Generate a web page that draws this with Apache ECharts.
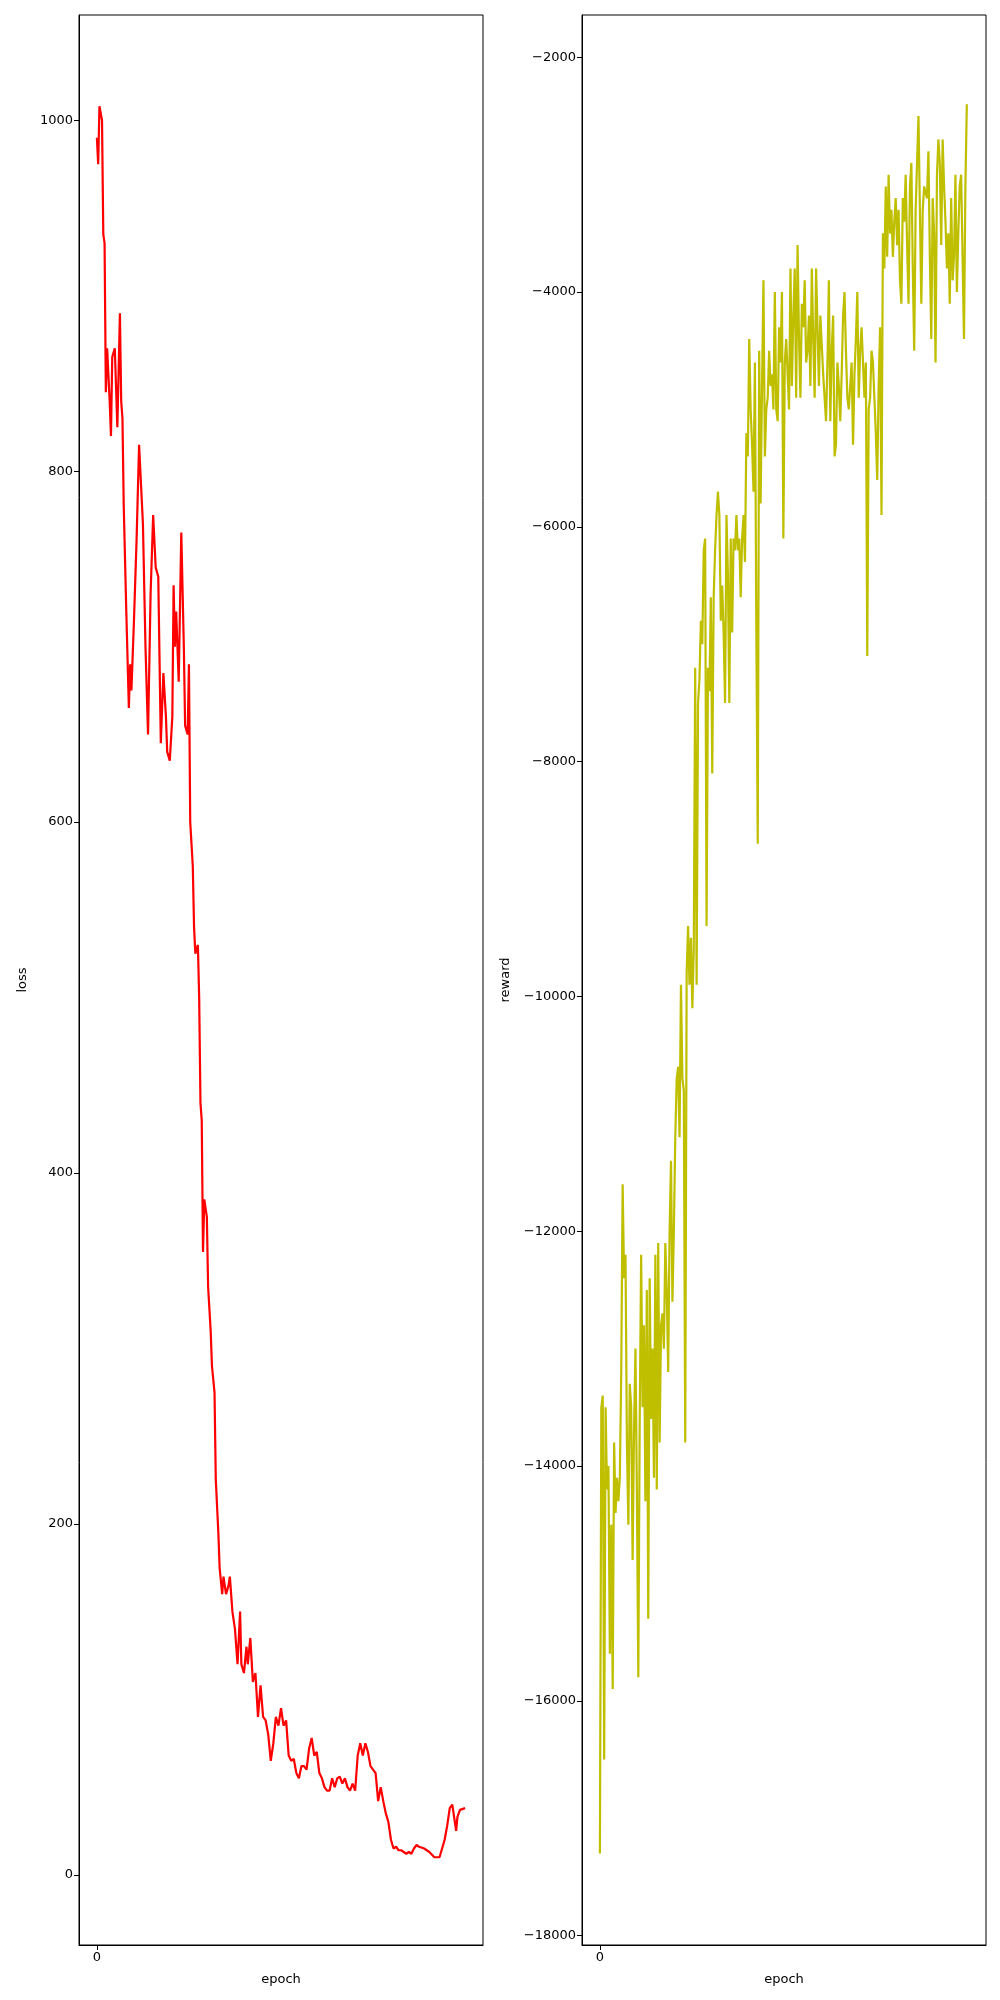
<!DOCTYPE html>
<html>
<head>
<meta charset="UTF-8">
<title>loss / reward</title>
<script src="https://cdn.jsdelivr.net/npm/echarts@6/dist/echarts.min.js"></script>
</head>
<body style="margin:0;background:#fff">
<div id="main" style="width:1000px;height:2000px"></div>
<script>
// loss curve: epoch positions and values
var lossEpoch = [0,1,2,4,5,6,7,8,10,11,12,14,16,18,19,20,21,23,25,26,27,29,31,33,34,36,38,40,42,44,46,48,50,52,54,55,57,59,60,61,62,64,66,68,69,71,72,73,75,76,77,79,80,81,82,83,84,86,87,89,90,92,93,95,96,98,99,101,103,104,106,108,110,112,113,115,117,118,120,122,124,126,128,130,132,134,136,138,140,142,144,146,148,150,152,154,156,158,160,162,164,166,168,170,172,174,176,178,180,182,184,186,188,190,192,194,196,198,200,202,204,206,208,210,212,214,216,218,220,222,224,226,228,230,232,234,236,238,240,242,244,246,248,250,252,256,260,264,268,272,274,276,278,280,281,282,284,288];
var lossValue = [990,975,1008,1000,935,930,845,870,840,820,865,870,825,890,840,830,780,720,665,690,675,715,760,815,800,770,700,650,730,775,745,740,645,685,660,640,635,660,735,700,720,680,765,700,655,650,690,600,575,540,525,530,500,440,430,355,385,375,335,310,290,275,225,195,175,160,170,160,165,170,150,140,120,150,120,115,130,120,135,110,115,90,108,90,88,80,65,75,90,85,95,85,88,68,65,66,58,55,62,62,60,72,78,68,70,58,55,50,48,48,55,50,55,56,52,55,50,48,52,48,68,75,68,75,70,62,60,58,42,50,42,35,30,20,15,16,14,14,13,12,13,12,15,17,16,15,13,10,10,20,28,38,40,30,25,33,37,38];
// reward per epoch
var rewardValue = [-17300,-13500,-13400,-16500,-13500,-14200,-14000,-15600,-14500,-15900,-13800,-14400,-14100,-14300,-14100,-13200,-11600,-12400,-12200,-13800,-14500,-13300,-13500,-14800,-13700,-13000,-14200,-15800,-13600,-12200,-13500,-12800,-14300,-12500,-15300,-12400,-13600,-13000,-14100,-12200,-14200,-12100,-13800,-12800,-12700,-13000,-12100,-12500,-13200,-12000,-11400,-12600,-12000,-11200,-10700,-10600,-11200,-9900,-10700,-10800,-13800,-9800,-9400,-9900,-9500,-10100,-9600,-7200,-9900,-7500,-7300,-6800,-7000,-6200,-6100,-9400,-7200,-7400,-6600,-8100,-6600,-6200,-5900,-5700,-5900,-6800,-6500,-6900,-7500,-5900,-6400,-7500,-6100,-6900,-6100,-6200,-5900,-6200,-6100,-6600,-6100,-5900,-6300,-5200,-5400,-4400,-5000,-5300,-5700,-4600,-6900,-8700,-4500,-5800,-4800,-3900,-5400,-5000,-4900,-4500,-4800,-4700,-5000,-4000,-5000,-5100,-4300,-4600,-4000,-6100,-4600,-4400,-4700,-5000,-3800,-4800,-4200,-3800,-4900,-3600,-4400,-4900,-4100,-4300,-3900,-4600,-4500,-4200,-4800,-3800,-4400,-4900,-3800,-4300,-4800,-4200,-4200,-4700,-4900,-5100,-4600,-3900,-5100,-4500,-4200,-5400,-5300,-4600,-4800,-5100,-4700,-4200,-4000,-4500,-4900,-5000,-4800,-4600,-5300,-4700,-4400,-4000,-4900,-4500,-4300,-4600,-4900,-4600,-7100,-5000,-4900,-4500,-4600,-4900,-5200,-5600,-4800,-4300,-5900,-3500,-3800,-3100,-3700,-3000,-3500,-3300,-3700,-3400,-3200,-3600,-3300,-3900,-4100,-3200,-3400,-3000,-3600,-4100,-3100,-2900,-3800,-4500,-3300,-2900,-2500,-3300,-4100,-3300,-3100,-3100,-3200,-2800,-3700,-4400,-3200,-3500,-4600,-3000,-2700,-2900,-3600,-2700,-3100,-3400,-3800,-3500,-4100,-3200,-3900,-3700,-3000,-4000,-3500,-3100,-3000,-3700,-4400,-3100,-2400];
var lossTicks = [0,200,400,600,800,1000];
var rewardTicks = [-18000,-16000,-14000,-12000,-10000,-8000,-6000,-4000,-2000];
var epochTicks = [0];

var font = 'DejaVu Sans';
function xAx(grid, min, max) {
  return {
    type: 'value', gridIndex: grid, min: min, max: max,
    name: 'epoch', nameLocation: 'middle', nameGap: 28,
    nameTextStyle: {color: '#000', fontSize: 13, fontFamily: font},
    axisLine: {show: true, onZero: false, lineStyle: {color: '#000', width: 1}},
    axisTick: {show: true, length: 5, customValues: epochTicks, lineStyle: {color: '#000'}},
    axisLabel: {customValues: epochTicks, color: '#000', fontSize: 13, fontFamily: font, margin: 6},
    splitLine: {show: false}
  };
}
function yAx(grid, min, max, ticks, name, gap) {
  return {
    type: 'value', gridIndex: grid, min: min, max: max,
    name: name, nameLocation: 'middle', nameGap: gap,
    nameTextStyle: {color: '#000', fontSize: 13, fontFamily: font},
    axisLine: {show: true, onZero: false, lineStyle: {color: '#000', width: 1}},
    axisTick: {show: true, length: 5, customValues: ticks, lineStyle: {color: '#000'}},
    axisLabel: {customValues: ticks, color: '#000', fontSize: 13, fontFamily: font, margin: 6,
      formatter: function (v) { return String(v).replace('-', '\u2212'); }},
    splitLine: {show: false}
  };
}
var rewardData = rewardValue.map(function (v, i) { return [i, v]; });
var lossData = lossEpoch.map(function (e, i) { return [e, lossValue[i]]; });
var last = rewardValue.length - 1;

var chart = echarts.init(document.getElementById('main'));
chart.setOption({
  animation: false,
  grid: [
    {left: 79, top: 15, width: 404, height: 1930, show: true, borderColor: '#000', borderWidth: 1},
    {left: 582, top: 15, width: 404, height: 1930, show: true, borderColor: '#000', borderWidth: 1}
  ],
  xAxis: [xAx(0, -14, 302), xAx(1, -14 * last / 287, 302 * last / 287)],
  yAxis: [yAx(0, -40, 1060, lossTicks, 'loss', 50), yAx(1, -18080, -1640, rewardTicks, 'reward', 70)],
  series: [
    {type: 'line', xAxisIndex: 0, yAxisIndex: 0, data: lossData, showSymbol: false,
     lineStyle: {color: '#ff0000', width: 2.2}},
    {type: 'line', xAxisIndex: 1, yAxisIndex: 1, data: rewardData, showSymbol: false,
     lineStyle: {color: '#bfbf00', width: 2.2}}
  ]
});
</script>
</body>
</html>
